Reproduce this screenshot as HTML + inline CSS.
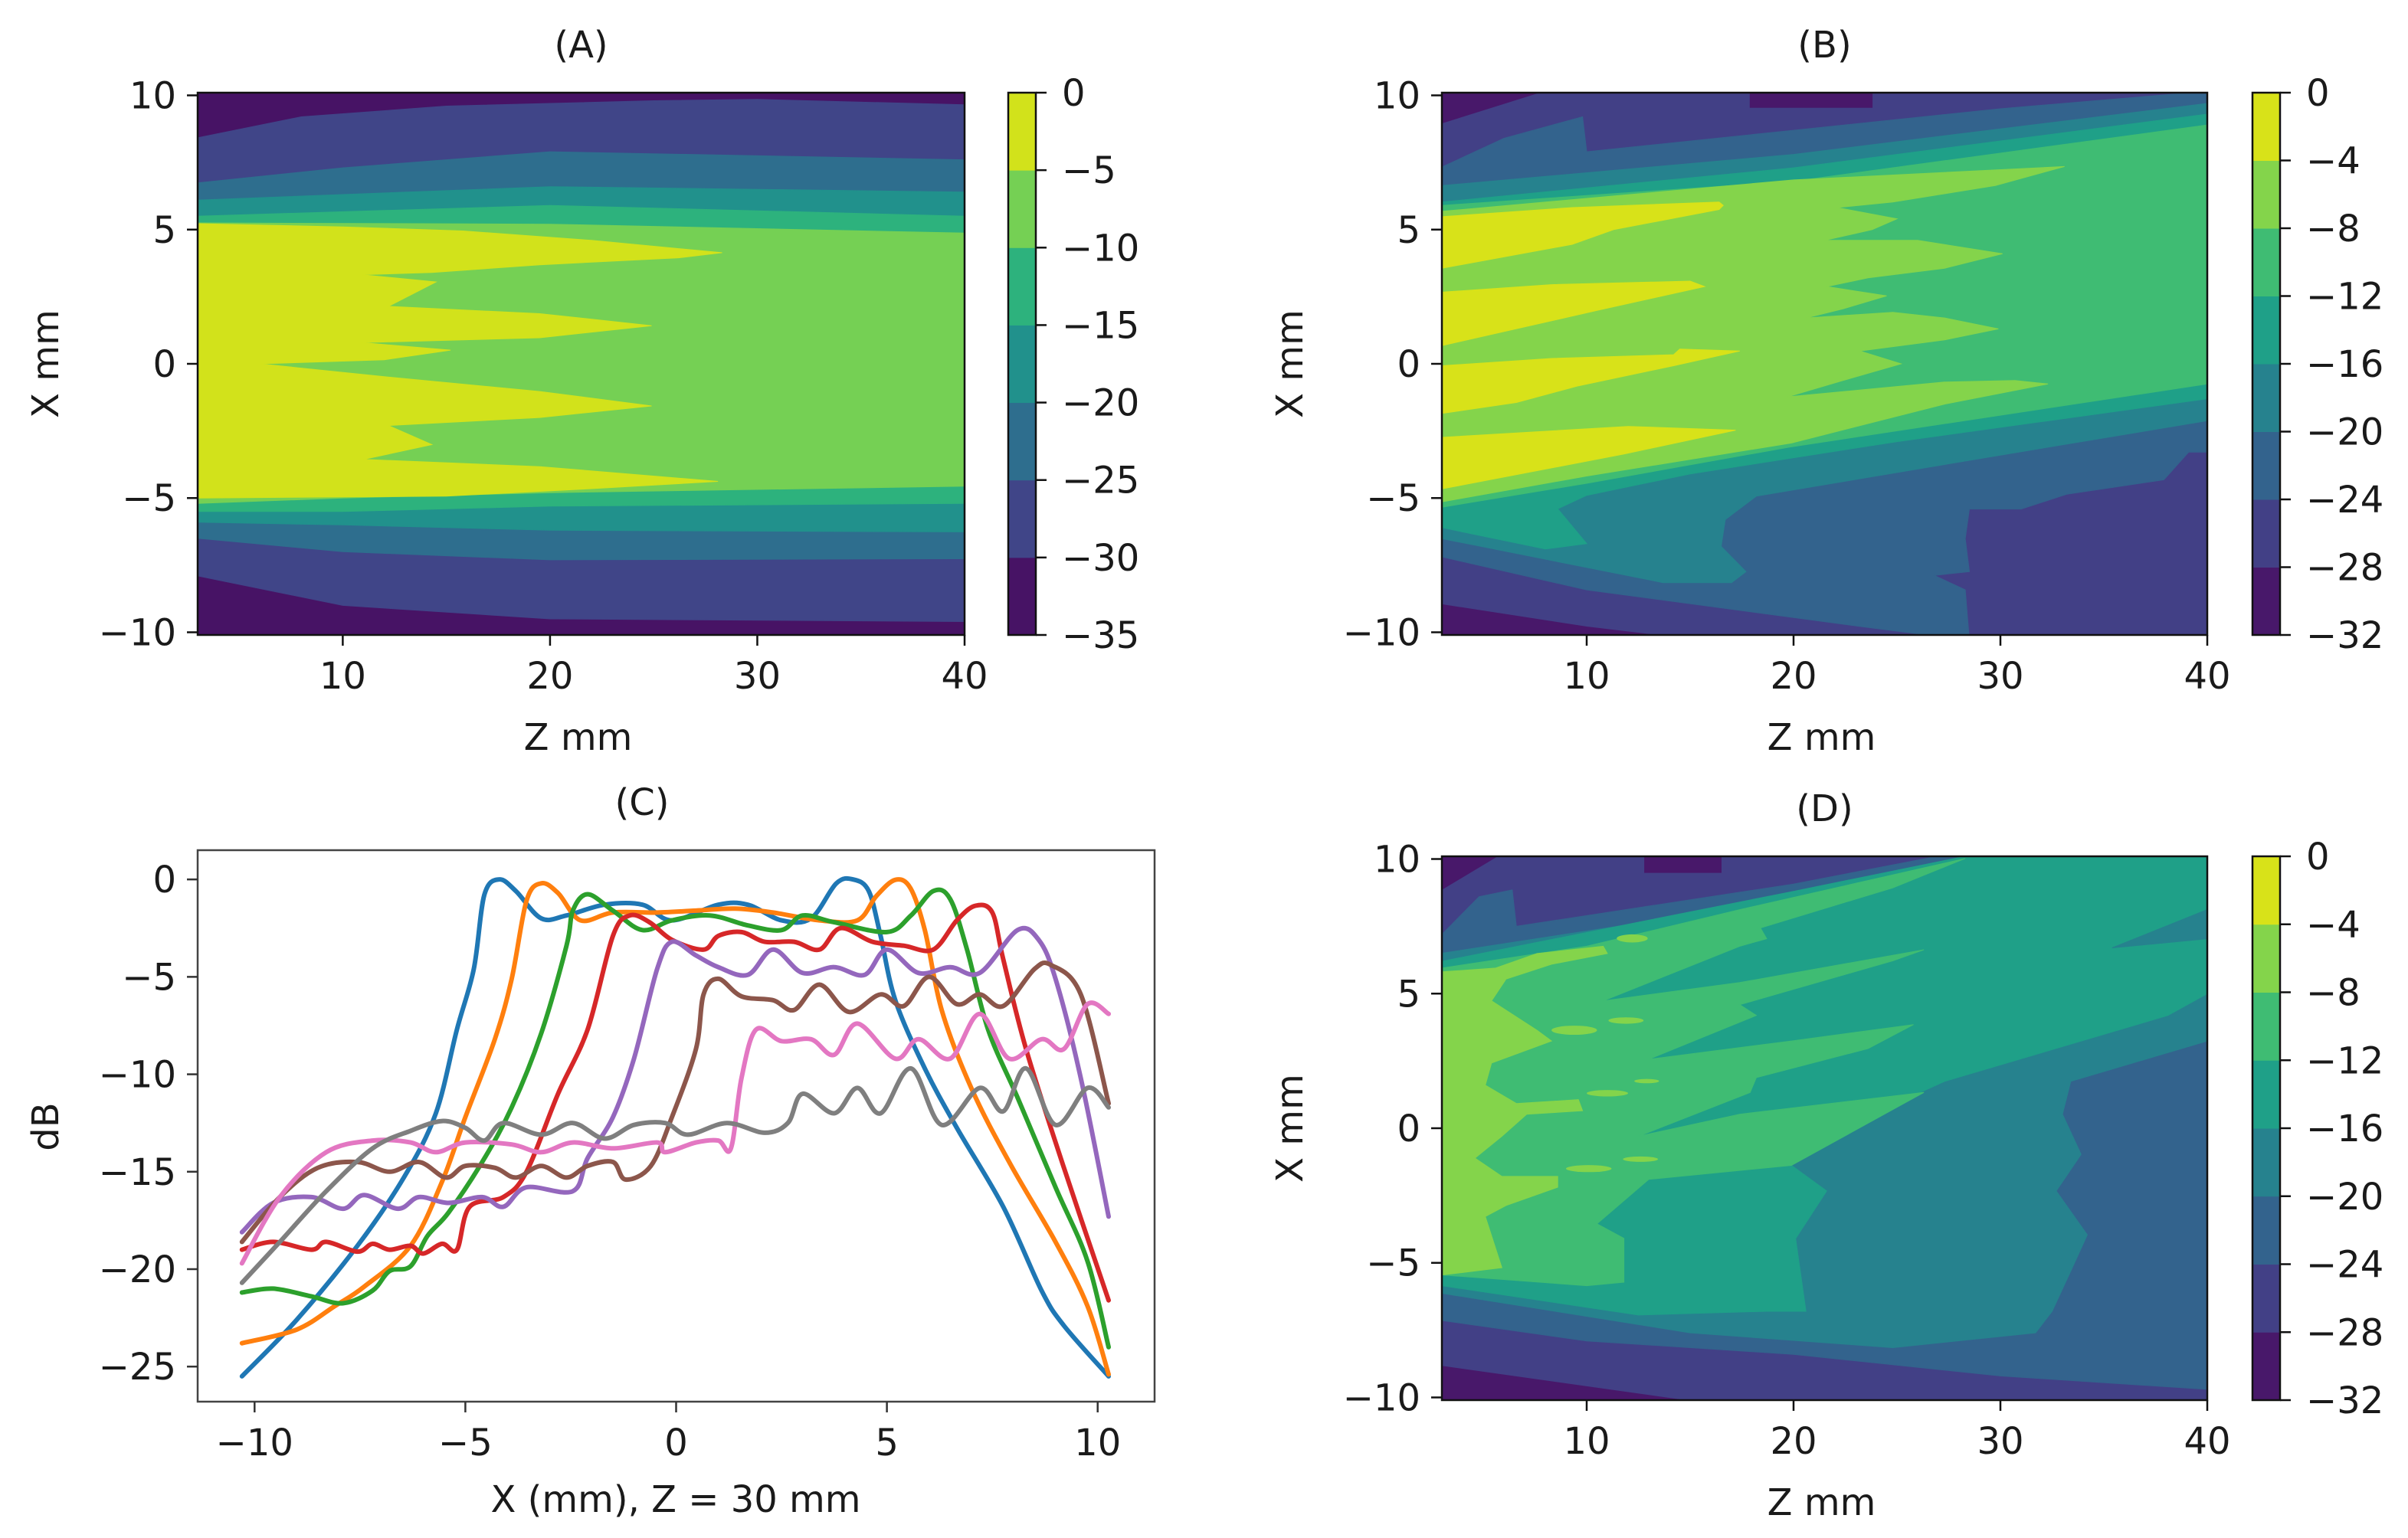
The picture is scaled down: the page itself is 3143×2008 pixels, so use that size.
<!DOCTYPE html>
<html><head><meta charset="utf-8"><style>
html,body{margin:0;padding:0;background:#fff}
svg{display:block}
text{font-family:"DejaVu Sans","Liberation Sans",sans-serif;fill:#1a1a1a}
</style></head><body>
<svg id="fig" xmlns="http://www.w3.org/2000/svg" width="3143" height="2008" viewBox="0 0 3143 2008">
<rect x="0" y="0" width="3143" height="2008" fill="#fff"/>
</svg>
<script>
// ---------- data ----------
const viridis7 = ['#471365','#404588','#2e6e8e','#21918c','#2db27d','#75d054','#d2e21b'];
const viridis8 = ['#48186a','#424086','#33638d','#26828e','#1fa088','#3fbc73','#84d44b','#d8e219'];
const cbarTicksA = ['0','−5','−10','−15','−20','−25','−30','−35'];
const cbarTicksBD = ['0','−4','−8','−12','−16','−20','−24','−28','−32'];
const zTicks = [10,20,30,40];
const xTicks = [-10,-5,0,5,10];
const dbTicks = [0,-5,-10,-15,-20,-25];

// Panel A contour boundaries [z, x]
const A1up=[[3,8.42],[8,9.2],[15,9.6],[25,9.8],[30,9.85],[40,9.65]];
const A1lo=[[40,-9.6],[20,-9.5],[10,-9.0],[3,-7.9]];
const A2up=[[3,6.74],[10,7.3],[20,7.9],[40,7.6]];
const A2lo=[[40,-7.26],[20,-7.3],[10,-7.0],[3,-6.5]];
const A3up=[[3,6.1],[20,6.6],[40,6.4]];
const A3lo=[[40,-6.26],[20,-6.2],[10,-6.0],[3,-5.9]];
const A4up=[[3,5.5],[20,5.9],[40,5.5]];
const A4lo=[[40,-5.2],[20,-5.3],[10,-5.5],[3,-5.5]];
const A5up=[[3,5.25],[20,5.2],[40,4.87]];
const A5lo=[[40,-4.56],[20,-4.8],[10,-5.0],[3,-5.2]];
const A6poly=[[3,5.22],[10,5.1],[15.8,4.95],[22,4.6],[28.3,4.14],[26.2,3.95],[19.5,3.69],[14.3,3.4],[10.9,3.32],[14.5,3.05],[12.2,2.14],[19.5,1.87],[24.9,1.42],[19.5,0.97],[10.9,0.79],[15.2,0.51],[12,0.15],[6,0.0],[12,-0.48],[19.5,-1.03],[24.9,-1.57],[19.5,-2.0],[12.2,-2.3],[14.3,-3.01],[11,-3.56],[19.5,-3.83],[28.1,-4.38],[22,-4.65],[15,-4.93],[3,-5.0]];

// Panel B
const B0tl=[[3,10.3],[8.5,10.3],[3,8.97]];
const B0top=[[17.9,10.3],[23.8,10.3],[23.8,9.55],[17.9,9.55]];
const B0bl=[[3,-8.97],[10,-9.8],[15.4,-10.3],[3,-10.3]];
const B2up=[[3,7.33],[6,8.4],[9.8,9.2],[10,7.9],[20,8.7],[30,9.5],[40,10.15]];
const B2lo=[[40,-3.29],[39.1,-3.29],[37.9,-4.32],[33.2,-4.86],[31,-5.41],[28.5,-5.41],[28.3,-6.51],[28.5,-7.74],[26.8,-7.88],[28.3,-8.42],[28.5,-10.3],[23.3,-9.79],[10,-8.42],[3,-7.19]];
const B3up=[[3,6.64],[20,7.8],[40,9.7]];
const B3lo=[[40,-2.12],[30,-3.4],[18.2,-4.93],[16.7,-5.8],[16.5,-6.8],[17.7,-7.74],[17,-8.15],[13.7,-8.15],[3,-6.51]];
const B4up=[[3,6.03],[20,7.3],[40,9.3]];
const B4lo=[[40,-1.3],[25,-2.9],[15,-4.1],[10,-4.9],[8.6,-5.4],[10,-6.7],[8,-6.9],[3,-6.1]];
const B5up=[[3,5.9],[20,6.8],[40,8.9]];
const B5lo=[[40,-0.75],[19.8,-3.1],[10,-4.45],[3,-5.34]];
const B6poly=[[3,5.68],[20,6.85],[33.1,7.35],[29.75,6.64],[24.8,6.03],[22.1,5.82],[25,5.4],[23.8,5.0],[21.5,4.6],[26,4.6],[30.1,4.1],[27.3,3.56],[23.6,3.2],[21.6,2.88],[24.5,2.53],[22.4,2.05],[20.6,1.71],[24.8,1.92],[27.3,1.71],[29.9,1.3],[27.3,0.89],[23.2,0.48],[25.2,0.0],[22.4,-0.62],[19.7,-1.23],[27.3,-0.68],[30.7,-0.62],[32.3,-0.75],[27.3,-1.5],[19.9,-2.95],[10,-4.18],[3,-5.14]];
const B7f1=[[3,5.48],[9.3,5.82],[16.4,6.03],[16.6,5.9],[16.4,5.75],[11.3,5.0],[9.3,4.45],[3,3.56]];
const B7f2=[[3,2.67],[8.3,2.95],[15,3.08],[15.7,2.88],[10.5,1.99],[3,0.68]];
const B7f3=[[3,-0.07],[8.3,0.2],[14.2,0.34],[14.5,0.55],[17.4,0.48],[14.2,-0.07],[9.6,-0.82],[6.6,-1.44],[3,-1.85]];
const B7f4=[[3,-2.74],[12,-2.33],[17.2,-2.47],[11.8,-3.36],[3,-4.66]];

// Panel D
const D0tl=[[3,10.3],[6.1,10.3],[3,8.87]];
const D0top=[[12.8,10.3],[16.5,10.3],[16.5,9.5],[12.8,9.5]];
const D0bl=[[3,-8.84],[10,-9.6],[16.5,-10.3],[3,-10.3]];
const D2up=[[3,7.2],[4.8,8.6],[6.4,8.85],[6.6,7.5],[20,9.07],[28.3,10.3],[40,10.3]];
const D2lo=[[40,-9.7],[30,-9.2],[20,-8.4],[10,-7.9],[3,-7.14]];
const D3up=[[3,6.5],[20,8.5],[28.3,10.0],[40,10.1]];
const D3lo=[[40,3.24],[33.4,1.74],[33,0.52],[33.9,-0.97],[32.7,-2.33],[34.2,-3.96],[33.4,-5.31],[32.5,-6.8],[31.7,-7.6],[24.8,-8.15],[15,-7.6],[3,-6.13]];
const D4up=[[3,6.2],[20,8.8],[28.3,10.1],[40,10.1]];
const D4lo=[[40,5.0],[38.1,4.19],[27.3,1.74],[21.1,-0.43],[19.9,-1.38],[21.6,-2.33],[20.1,-4.1],[20.6,-6.8],[18.7,-6.8],[12.5,-6.94],[3,-5.85]];
const D3tongue=[[35.4,6.7],[40,8.12],[40,7.04]];
const D5poly=[[3,5.95],[10,6.76],[17.4,8.12],[28.3,10.02],[24.8,8.93],[18.4,7.44],[18.7,7.04],[17.4,6.76],[10.8,4.73],[17.4,5.41],[26.3,6.63],[24.8,6.22],[17.4,4.59],[18.2,4.19],[13,2.56],[19.9,3.24],[25.8,3.85],[23.6,2.96],[18.2,1.88],[17.9,1.33],[12.5,-0.3],[17.4,0.52],[26.3,1.33],[19.9,-1.38],[13,-1.9],[10.5,-3.55],[11.8,-4.09],[11.8,-5.72],[10,-5.85],[3,-5.45]];
const D6poly=[[3,5.81],[5.6,5.95],[7.6,6.49],[10.8,6.76],[11,6.49],[8.3,6.09],[6.1,5.54],[5.4,4.73],[7.6,3.64],[8.3,3.24],[5.4,2.42],[5.1,1.6],[6.6,0.92],[9.6,1.06],[9.8,0.65],[7.1,0.52],[5.9,-0.3],[4.6,-1.11],[5.9,-1.79],[8.6,-1.79],[8.6,-2.19],[6.1,-2.87],[5.1,-3.28],[5.9,-5.18],[3,-5.45]];
const D6islands=[[9.4,3.64,1.1,0.17],[11.9,4.0,0.85,0.12],[12.2,7.05,0.75,0.15],[11,1.3,1.0,0.12],[12.9,1.75,0.6,0.08],[10.1,-1.5,1.1,0.13],[12.6,-1.15,0.85,0.1]];

// Panel C series [x mm, dB]
const sBlue=[[-10.3,-25.5],[-9,-22.6],[-7.56,-18.8],[-6.46,-15.3],[-5.7,-12],[-5.2,-7.7],[-4.8,-4.6],[-4.55,-0.8],[-4.2,0],[-3.8,-0.6],[-3.2,-2],[-2.6,-1.85],[-1.7,-1.3],[-0.8,-1.3],[-0.1,-2.1],[1,-1.3],[1.7,-1.3],[2.5,-2.1],[3.2,-2],[3.8,-0.2],[4.2,0],[4.57,-0.6],[4.85,-2.9],[5.2,-6.2],[5.9,-9.7],[6.66,-12.75],[7.76,-16.8],[8.67,-21.1],[9.2,-22.9],[10.26,-25.5]];
const sOrange=[[-10.3,-23.8],[-9,-23.1],[-8.1,-21.9],[-7.4,-20.9],[-6.3,-18.8],[-5.55,-15.5],[-5,-12.2],[-4.3,-8.2],[-3.9,-5.1],[-3.55,-1.1],[-3.2,-0.2],[-2.8,-0.7],[-2.27,-2.1],[-1.5,-1.7],[-0.45,-1.7],[0.47,-1.6],[1.4,-1.5],[2.3,-1.7],[3.4,-2.1],[4.3,-2.1],[4.75,-0.85],[5.2,-0.02],[5.56,-0.45],[5.9,-2.6],[6.3,-6.7],[7,-10.7],[7.9,-14.5],[9,-18.6],[9.76,-21.9],[10.26,-25.4]];
const sGreen=[[-10.3,-21.2],[-9.56,-21],[-8.65,-21.4],[-7.9,-21.75],[-7.2,-21.1],[-6.8,-20.1],[-6.3,-19.85],[-5.9,-18.3],[-5.4,-17.1],[-4.6,-14.5],[-3.9,-11.7],[-3.2,-7.9],[-2.6,-3.4],[-2.45,-1.6],[-2.1,-0.76],[-1.5,-1.6],[-0.8,-2.6],[-0.1,-2.1],[0.8,-1.85],[1.7,-2.36],[2.5,-2.6],[3,-1.85],[3.75,-2.2],[5,-2.7],[5.57,-1.85],[6.1,-0.6],[6.5,-1],[6.9,-3.6],[7.4,-7.7],[8.1,-11.2],[9,-15.8],[9.76,-19.6],[10.26,-24]];
const sRed=[[-10.3,-19],[-9.56,-18.6],[-8.65,-19],[-8.3,-18.6],[-7.56,-19.1],[-7.2,-18.7],[-6.8,-19],[-6.3,-18.8],[-6,-19.2],[-5.55,-18.7],[-5.2,-19],[-4.9,-16.8],[-4.1,-16.3],[-3.55,-15],[-2.8,-11],[-2.1,-7.7],[-1.5,-2.9],[-1.1,-1.85],[-0.63,-2.2],[-0.1,-3.1],[0.65,-3.6],[1,-2.9],[1.55,-2.7],[2.1,-3.2],[2.8,-3.2],[3.4,-3.6],[3.9,-2.5],[4.66,-3.2],[5.4,-3.4],[6.1,-3.6],[6.66,-2.1],[7.1,-1.35],[7.5,-1.7],[7.76,-4.1],[8.3,-8.7],[9.2,-14.8],[10.26,-21.6]];
const sPurple=[[-10.3,-18.1],[-9.56,-16.6],[-8.65,-16.3],[-7.9,-16.9],[-7.4,-16.2],[-6.6,-16.9],[-6.1,-16.3],[-5.4,-16.6],[-4.6,-16.3],[-4.1,-16.8],[-3.55,-15.8],[-2.45,-16],[-2.1,-14.3],[-1.5,-12.2],[-1,-9.2],[-0.45,-4.6],[-0.1,-3.2],[0.47,-3.9],[1,-4.5],[1.7,-4.9],[2.3,-3.6],[3,-4.8],[3.75,-4.5],[4.47,-4.9],[5,-3.6],[5.75,-4.8],[6.5,-4.5],[7.2,-4.8],[8.1,-2.6],[8.6,-3.1],[9,-5.1],[9.6,-10.2],[10.26,-17.3]];
const sBrown=[[-10.3,-18.6],[-9.4,-16.3],[-8.5,-14.8],[-7.56,-14.5],[-6.8,-15],[-6.1,-14.5],[-5.46,-15.3],[-5,-14.7],[-4.3,-14.8],[-3.8,-15.3],[-3.2,-14.7],[-2.6,-15.3],[-2.1,-14.7],[-1.5,-14.5],[-1.2,-15.4],[-0.6,-14.7],[-0.1,-12.2],[0.47,-8.7],[0.65,-5.9],[1,-5.1],[1.55,-6],[2.3,-6.2],[2.8,-6.7],[3.4,-5.4],[4.1,-6.8],[4.85,-5.9],[5.4,-6.5],[6,-5],[6.66,-6.4],[7.2,-5.9],[7.76,-6.5],[8.5,-4.6],[8.9,-4.4],[9.6,-5.9],[10.26,-11.5]];
const sPink=[[-10.3,-19.7],[-9.4,-16.3],[-8.3,-14],[-7.2,-13.4],[-6.3,-13.5],[-5.7,-14],[-5,-13.5],[-3.9,-13.6],[-3.2,-14],[-2.45,-13.5],[-1.5,-13.8],[-0.45,-13.5],[-0.26,-14],[0.47,-13.5],[1,-13.4],[1.3,-13.8],[1.55,-10.2],[1.9,-7.7],[2.5,-8.3],[3.2,-8.2],[3.75,-9],[4.3,-7.4],[5.2,-9.2],[5.75,-8.2],[6.5,-9.2],[7.2,-6.9],[7.9,-9.2],[8.67,-8.2],[9.2,-8.7],[9.76,-6.4],[10.26,-6.9]];
const sGray=[[-10.3,-20.7],[-9.4,-18.6],[-8.3,-16],[-7.2,-13.8],[-6.3,-12.9],[-5.55,-12.4],[-5,-12.75],[-4.55,-13.4],[-4.1,-12.5],[-3.2,-13.1],[-2.45,-12.5],[-1.7,-13.3],[-1,-12.6],[-0.26,-12.5],[0.28,-13.1],[1.2,-12.5],[2.1,-13],[2.65,-12.5],[3,-11],[3.75,-12],[4.3,-10.7],[4.85,-12],[5.57,-9.7],[6.3,-12.6],[7.2,-10.7],[7.76,-11.9],[8.3,-9.7],[9,-12.6],[9.76,-10.7],[10.26,-11.7]];

// ---------- drawing ----------
const FS=48;
const NS='http://www.w3.org/2000/svg';
const svg=document.getElementById('fig');
function mk(tag,attrs,parent){const e=document.createElementNS(NS,tag);for(const k in attrs)e.setAttribute(k,attrs[k]);(parent||svg).appendChild(e);return e;}
function txt(s,x,y,size,anchor,parent,rot){const t=mk('text',{x:x,y:y,'font-size':size,'text-anchor':anchor||'middle'},parent);if(rot)t.setAttribute('transform','rotate('+rot+' '+x+' '+y+')');t.textContent=s;return t;}

function makePanel(id,x0,x1,y0,y1,zlo,zhi,xlo,xhi){
  return {id,x0,x1,y0,y1,sx:z=>x0+(z-zlo)/(zhi-zlo)*(x1-x0),sy:v=>y0+(xhi-v)/(xhi-xlo)*(y1-y0)};
}
function polyPts(P,pts){return pts.map(p=>P.sx(p[0]).toFixed(1)+','+P.sy(p[1]).toFixed(1)).join(' ');}

function contourPanel(P,title,bg,layers,islands,cbColors,cbTicks,cbx){
  const g=mk('g',{});
  
  
  const cp=mk('clipPath',{id:'clip'+P.id},g);
  mk('rect',{x:P.x0,y:P.y0,width:P.x1-P.x0,height:P.y1-P.y0},cp);
  const cg=mk('g',{'clip-path':'url(#clip'+P.id+')'},g);
  
  
  const bgr=mk('rect',{x:P.x0,y:P.y0,width:P.x1-P.x0,height:P.y1-P.y0,fill:bg},cg);
  
  
  layers.forEach((L,i)=>{
    const pg=mk('polygon',{points:polyPts(P,L.pts),fill:L.c,stroke:L.c,'stroke-width':1},cg);
    
    
  });
  (islands||[]).forEach(isl=>{
    const el=mk('ellipse',{cx:P.sx(isl[0]),cy:P.sy(isl[1]),rx:Math.abs(P.sx(isl[0]+isl[2])-P.sx(isl[0])),ry:Math.abs(P.sy(isl[1]+isl[3])-P.sy(isl[1])),fill:isl[4]},cg);
    
    
  });
  const fr=mk('rect',{x:P.x0,y:P.y0,width:P.x1-P.x0,height:P.y1-P.y0,fill:'none',stroke:'#111','stroke-width':2.5},g);
  
  
  zTicks.forEach(z=>{const X=P.sx(z);mk('line',{x1:X,x2:X,y1:P.y1,y2:P.y1+14,stroke:'#111','stroke-width':2.5},g);
    const t=txt(String(z),X,P.y1+70,FS,'middle',g);});
  [10,5,0,-5,-10].forEach(v=>{const Y=P.sy(v);mk('line',{x1:P.x0-14,x2:P.x0,y1:Y,y2:Y,stroke:'#111','stroke-width':2.5},g);
    const t=txt(String(v).replace('-','−'),P.x0-28,Y+17,FS,'end',g);});
  const tt=txt(title,(P.x0+P.x1)/2,P.y0-46,FS,'middle',g);
  const xl=txt('Z mm',(P.x0+P.x1)/2-4,P.y1+150,FS,'middle',g);
  const yl=txt('X mm',P.x0-182,(P.y0+P.y1)/2,FS,'middle',g,-90);
  const cb=mk('g',{},g);
  const n=cbColors.length,h=(P.y1-P.y0)/n;
  cbColors.forEach((c,i)=>{const r=mk('rect',{x:cbx,y:P.y1-(i+1)*h,width:36,height:h+0.5,fill:c},cb);});
  mk('rect',{x:cbx,y:P.y0,width:36,height:P.y1-P.y0,fill:'none',stroke:'#111','stroke-width':2.5},cb);
  cbTicks.forEach((s,i)=>{const Y=P.y0+i*h;mk('line',{x1:cbx+36,x2:cbx+50,y1:Y,y2:Y,stroke:'#111','stroke-width':2.5},cb);
    const t=txt(s,cbx+70,Y+17,FS,'start',cb);});
}
const band=(up,lo)=>up.concat(lo);

const PA=makePanel('a',258,1259,121,829,3,40,-10.1,10.1);
contourPanel(PA,'(A)',viridis7[0],[
  {c:viridis7[1],pts:band(A1up,A1lo)},{c:viridis7[2],pts:band(A2up,A2lo)},{c:viridis7[3],pts:band(A3up,A3lo)},
  {c:viridis7[4],pts:band(A4up,A4lo)},{c:viridis7[5],pts:band(A5up,A5lo)},{c:viridis7[6],pts:A6poly}],null,viridis7,cbarTicksA,1316);

const PB=makePanel('b',1882,2881,121,829,3,40,-10.1,10.1);
contourPanel(PB,'(B)',viridis8[1],[
  {c:viridis8[0],pts:B0tl},{c:viridis8[0],pts:B0top},{c:viridis8[0],pts:B0bl},
  {c:viridis8[2],pts:band(B2up,B2lo)},{c:viridis8[3],pts:band(B3up,B3lo)},{c:viridis8[4],pts:band(B4up,B4lo)},
  {c:viridis8[5],pts:band(B5up,B5lo)},{c:viridis8[6],pts:B6poly},
  {c:viridis8[7],pts:B7f1},{c:viridis8[7],pts:B7f2},{c:viridis8[7],pts:B7f3},{c:viridis8[7],pts:B7f4}],null,viridis8,cbarTicksBD,2940);

const PD=makePanel('d',1882,2881,1118,1828,3,40,-10.1,10.1);
contourPanel(PD,'(D)',viridis8[1],[
  {c:viridis8[0],pts:D0tl},{c:viridis8[0],pts:D0top},{c:viridis8[0],pts:D0bl},
  {c:viridis8[2],pts:band(D2up,D2lo)},{c:viridis8[3],pts:band(D3up,D3lo)},{c:viridis8[4],pts:band(D4up,D4lo)},
  {c:viridis8[3],pts:D3tongue},{c:viridis8[5],pts:D5poly},{c:viridis8[6],pts:D6poly}],
  D6islands.map(a=>a.concat([viridis8[6]])),viridis8,cbarTicksBD,2940);

// Panel C
const PC={x0:258,x1:1507,y0:1110,y1:1830};
const cxs=x=>PC.x0+(x+11.35)/22.7*(PC.x1-PC.x0);
const cys=v=>PC.y0+(1.5-v)/28.3*(PC.y1-PC.y0);
const gC=mk('g',{});
const seriesList=[[sBlue,'#1f77b4','blue'],[sOrange,'#ff7f0e','orange'],[sGreen,'#2ca02c','green'],[sRed,'#d62728','red'],[sPurple,'#9467bd','purple'],[sBrown,'#8c564b','brown'],[sPink,'#e377c2','pink'],[sGray,'#7f7f7f','gray']];
function smooth(pts){
  const P=pts.map(p=>[cxs(p[0]),cys(p[1])]);
  let d='M'+P[0][0].toFixed(1)+','+P[0][1].toFixed(1);
  for(let i=0;i<P.length-1;i++){
    const p0=P[Math.max(0,i-1)],p1=P[i],p2=P[i+1],p3=P[Math.min(P.length-1,i+2)];
    const c1=[p1[0]+(p2[0]-p0[0])/6,p1[1]+(p2[1]-p0[1])/6];
    const c2=[p2[0]-(p3[0]-p1[0])/6,p2[1]-(p3[1]-p1[1])/6];
    d+=' C'+c1[0].toFixed(1)+','+c1[1].toFixed(1)+' '+c2[0].toFixed(1)+','+c2[1].toFixed(1)+' '+p2[0].toFixed(1)+','+p2[1].toFixed(1);
  }
  return d;
}
seriesList.forEach(s=>{
  const p=mk('path',{d:smooth(s[0]),fill:'none',stroke:s[1],'stroke-width':6,'stroke-linejoin':'round','stroke-linecap':'round'},gC);
  
  
});
const frC=mk('rect',{x:PC.x0,y:PC.y0,width:PC.x1-PC.x0,height:PC.y1-PC.y0,fill:'none',stroke:'#444','stroke-width':2.5},gC);


xTicks.forEach(v=>{const X=cxs(v);mk('line',{x1:X,x2:X,y1:PC.y1,y2:PC.y1+14,stroke:'#333','stroke-width':2.5},gC);
  const t=txt(String(v).replace('-','−'),X,PC.y1+70,FS,'middle',gC);});
dbTicks.forEach(v=>{const Y=cys(v);mk('line',{x1:PC.x0-14,x2:PC.x0,y1:Y,y2:Y,stroke:'#333','stroke-width':2.5},gC);
  const t=txt(String(v).replace('-','−'),PC.x0-28,Y+17,FS,'end',gC);});
const tC=txt('(C)',838,1064,FS,'middle',gC);
const xC=txt('X (mm), Z = 30 mm',882,1974,FS,'middle',gC);
const yC=txt('dB',76,1471,FS,'middle',gC,-90);
</script>
</body></html>
